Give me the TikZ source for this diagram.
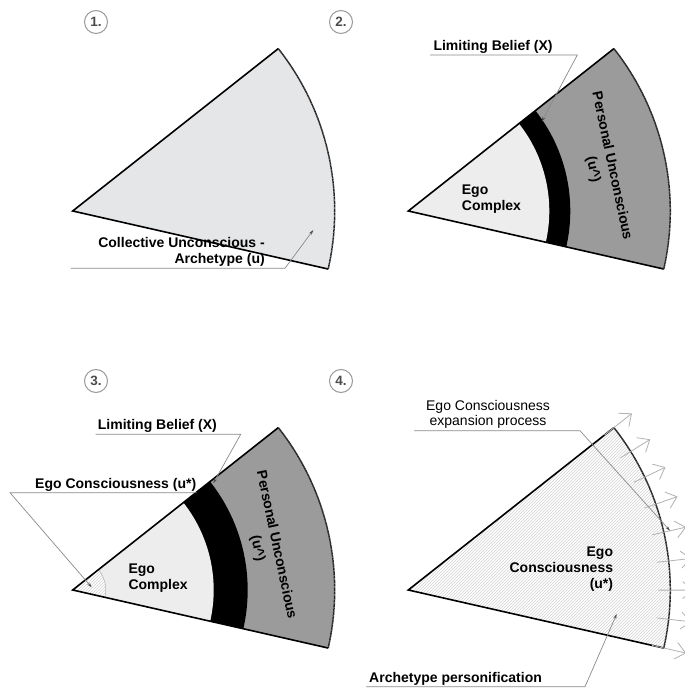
\documentclass[tikz,border=0pt]{standalone}
\usepackage{fontspec}
\setmainfont{Liberation Sans}
\usepackage{tikz}
\usetikzlibrary{positioning,arrows.meta,calc,patterns}

\definecolor{collfill}{HTML}{E5E6E8}
\definecolor{egofill}{HTML}{EDEDED}
\definecolor{uncfill}{HTML}{9B9B9B}
\definecolor{leadgray}{HTML}{8A8A8A}
\definecolor{stagegray}{HTML}{9A9A9A}

% one sector of the wheel, apex at the origin of the current scope
\newcommand{\fan}[1]{(0,0) -- (-12.8:#1) arc[start angle=-12.8,end angle=38.3,radius=#1] -- cycle}
\newcommand{\rimarc}{(-12.8:262) arc[start angle=-12.8,end angle=38.3,radius=262]}

\tikzset{
  sideline/.style={line width=1.6pt, line join=miter},
  rimline/.style={line width=1.5pt, black!85, dash pattern=on 1.2pt off 0.4pt},
  lbl/.style={font=\bfseries\fontsize{14}{16}\selectfont, inner sep=0pt},
  lblplain/.style={font=\fontsize{14}{15.5}\selectfont, inner sep=0pt},
  leadline/.style={draw=leadgray, line width=0.7pt, -{Stealth[length=5pt,width=3pt,black!70]}},
  stagemark/.style={circle, draw=stagegray, line width=1pt, minimum size=23pt, inner sep=0pt,
    text=black!70, font=\bfseries\fontsize{13.5}{13.5}\selectfont},
  hatchfill/.style={pattern=north east lines, pattern color=black!18},
  growarrow/.style={draw=black!30, line width=0.8pt, -{Straight Barb[length=10pt,width=17pt]}}
}

\begin{document}
\begin{tikzpicture}[x=1pt,y=1pt]
  \path[use as bounding box, fill=white] (0,0) rectangle (685,689);

  \node[stagemark] (s1) at (96,667) {1.};
  \node[stagemark] (s2) at (341,667) {2.};
  \node[stagemark] (s3) at (96,308) {3.};
  \node[stagemark] (s4) at (341,308) {4.};

  % 1.
  \begin{scope}[shift={(72.7,478)}]
    \fill[collfill] \fan{262};
    \draw[sideline] (38.3:262) -- (0,0) -- (-12.8:262);
    \draw[rimline] \rimarc;
  \end{scope}
  \node[lbl, anchor=south east, align=right] (coll) at (265,422) {Collective Unconscious -\\Archetype (u)};
  \coordinate (collL) at (70.7,420.7);
  \coordinate (collR) at (285,420.7);
  \coordinate (collT) at (313.3,459);
  \draw[leadline] (collL) -- (collR) -- (collT);

  % 2.
  \begin{scope}[shift={(408.3,478)}]
    \fill[uncfill] \fan{262};
    \fill[black] \fan{162};
    \fill[egofill] \fan{141};
    \draw[sideline] (38.3:262) -- (0,0) -- (-12.8:262);
    \draw[rimline] \rimarc;
    \node[lbl, anchor=west, align=left] (ego2) at (53.4,12) {Ego\\Complex};
    \node[lbl, rotate=-78, align=center, font=\bfseries\fontsize{14}{19}\selectfont] (pers2) at (194,43) {Personal Unconscious\\(u\textasciicircum)};
  \end{scope}
  \node[lbl, anchor=south west] (lim2) at (433.3,635.5) {Limiting Belief (X)};
  \coordinate (lim2L) at (430,634);
  \coordinate (lim2R) at (577.3,634);
  \coordinate (lim2T) at (541.7,567.3);
  \draw[leadline] (lim2L) -- (lim2R) -- (lim2T);

  % 3.
  \begin{scope}[shift={(72.7,99)}]
    \fill[uncfill] \fan{262};
    \fill[black] \fan{175};
    \fill[egofill] \fan{141};
    \path[preaction={fill=white}, hatchfill] \fan{33};
    \draw[black!30, line width=0.5pt] (-12.8:33) arc[start angle=-12.8,end angle=38.3,radius=33];
    \draw[sideline] (38.3:262) -- (0,0) -- (-12.8:262);
    \draw[rimline] \rimarc;
    \node[lbl, anchor=west, align=left] (ego3) at (55.6,12) {Ego\\Complex};
    \node[lbl, rotate=-78, align=center, font=\bfseries\fontsize{14}{19}\selectfont] (pers3) at (194,43) {Personal Unconscious\\(u\textasciicircum)};
  \end{scope}
  \node[lbl, anchor=south west] (lim3) at (97.7,256) {Limiting Belief (X)};
  \coordinate (lim3L) at (95.7,254.7);
  \coordinate (lim3R) at (240.7,254.7);
  \coordinate (lim3T) at (213.3,205.7);
  \draw[leadline] (lim3L) -- (lim3R) -- (lim3T);
  \node[lbl, anchor=south west] (cons3) at (35,197.5) {Ego Consciousness (u*)};
  \coordinate (cons3R) at (196.7,196.3);
  \coordinate (cons3L) at (10,196.3);
  \coordinate (cons3T) at (91.7,101.7);
  \draw[leadline] (cons3R) -- (cons3L) -- (cons3T);

  % 4.
  \begin{scope}[shift={(408.3,99)}]
    \path[preaction={fill=white}, hatchfill] \fan{262};
    \draw[sideline] (38.3:262) -- (0,0) -- (-12.8:262);
    \draw[rimline] \rimarc;
    \foreach \i in {0,...,8}{
      \pgfmathsetmacro{\ang}{38.3-\i*6.3875}
      \coordinate (g\i s) at (\ang:250);
      \coordinate (g\i e) at (\ang:285);
      \draw[growarrow] (g\i s) -- (g\i e);
    }
  \end{scope}
  \node[lbl, anchor=south east, align=right] (cons4) at (613.3,97.5) {Ego\\Consciousness\\(u*)};
  \node[lblplain, anchor=south, align=center] (exp4) at (488,260) {Ego Consciousness\\expansion process};
  \coordinate (exp4L) at (414,258.3);
  \coordinate (exp4R) at (580,258.3);
  \coordinate (exp4T) at (670,158.3);
  \draw[leadline] (exp4L) -- (exp4R) -- (exp4T);
  \node[lbl, anchor=south west] (pers4) at (369,3.5) {Archetype personification};
  \coordinate (pers4L) at (366,2.3);
  \coordinate (pers4R) at (585,2.3);
  \coordinate (pers4T) at (616.7,75);
  \draw[leadline] (pers4L) -- (pers4R) -- (pers4T);
\end{tikzpicture}
\end{document}
